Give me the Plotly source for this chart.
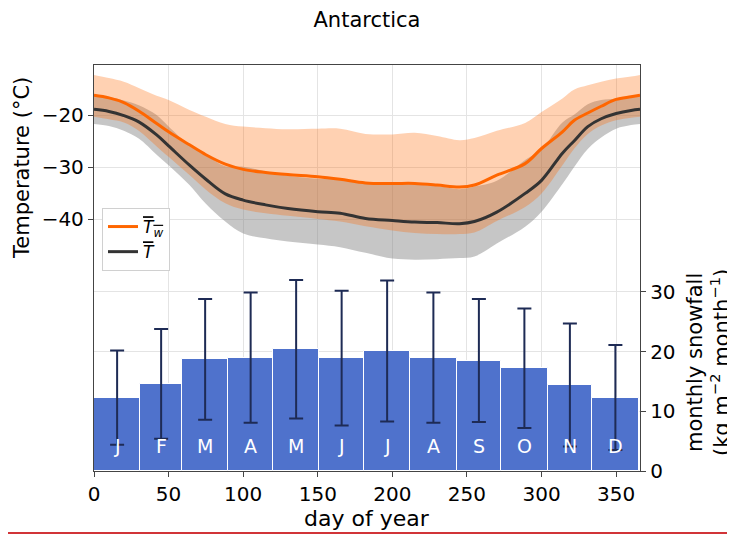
import plotly.graph_objects as go

# ---------------- data ----------------
days = [0, 10, 20, 30, 42, 50, 64, 75, 88, 100, 115, 130, 150, 165, 182,
        200, 215, 230, 245, 255, 270, 289, 300, 314, 322, 331, 340, 350, 360, 366]

tw_mean = [-16.2, -16.7, -17.6, -19.2, -21.6, -23.2, -25.7, -27.6, -29.4, -30.4,
           -31.0, -31.4, -31.8, -32.3, -33.0, -33.1, -33.1, -33.4, -33.8, -33.4,
           -31.5, -29.3, -26.4, -23.2, -21.0, -19.6, -18.3, -17.0, -16.5, -16.2]
tw_upper = [-12.3, -12.9, -13.6, -14.8, -16.3, -17.1, -19.0, -20.3, -21.7, -22.2,
            -22.5, -22.7, -22.6, -22.6, -23.6, -23.7, -23.4, -24.0, -24.8, -24.4,
            -23.0, -21.5, -19.4, -16.8, -15.1, -14.3, -13.6, -13.0, -12.6, -12.3]
tw_lower = [-20.3, -20.8, -21.4, -23.0, -26.0, -28.0, -31.5, -34.3, -36.9, -38.1,
            -38.8, -39.3, -39.9, -40.4, -41.3, -42.1, -42.6, -42.8, -42.8, -42.5,
            -40.3, -37.6, -35.0, -29.6, -26.4, -23.6, -22.0, -21.0, -20.5, -20.3]

t_mean = [-18.9, -19.3, -20.1, -21.3, -23.8, -25.9, -29.6, -32.3, -35.1, -36.3,
          -37.2, -37.9, -38.5, -38.8, -39.8, -40.2, -40.5, -40.6, -40.8, -40.4,
          -38.6, -35.0, -32.5, -27.3, -24.9, -22.2, -20.7, -19.7, -19.1, -18.9]
t_upper = [-16.1, -16.5, -17.2, -18.1, -20.0, -22.2, -25.8, -27.6, -29.8, -29.9,
           -30.8, -31.6, -32.2, -32.3, -33.2, -32.9, -33.3, -33.6, -34.2, -33.7,
           -32.6, -28.6, -26.5, -21.4, -19.9, -17.9, -17.1, -16.8, -16.3, -16.1]
t_lower = [-21.7, -22.1, -23.0, -24.5, -27.6, -29.6, -33.4, -37.0, -40.4, -42.7,
           -43.6, -44.2, -44.8, -45.3, -46.4, -47.5, -47.7, -47.6, -47.4, -47.1,
           -44.6, -41.4, -38.5, -33.2, -29.9, -26.5, -24.3, -22.6, -21.9, -21.7]

months = ["J", "F", "M", "A", "M", "J", "J", "A", "S", "O", "N", "D"]
month_days = [31, 28, 31, 30, 31, 30, 31, 31, 30, 31, 30, 31]
snow_mean = [12.3, 14.6, 18.7, 19.0, 20.4, 18.9, 20.1, 19.0, 18.5, 17.2, 14.4, 12.3]
snow_err = [7.9, 9.2, 10.1, 10.9, 11.6, 11.3, 11.8, 10.9, 10.3, 10.0, 10.3, 8.8]

x_ticks = [0, 50, 100, 150, 200, 250, 300, 350]
t_ticks = [-40, -30, -20]
s_ticks = [0, 10, 20, 30]

# month centres from month lengths
starts = []
acc = 0
for d in month_days:
    starts.append(acc)
    acc += d
centres = [s + d / 2 for s, d in zip(starts, month_days)]

FONT = "DejaVu Sans"
ORANGE = "#ff6600"
DARK = "#333333"

# page body has an 8px margin: figure is drawn 8px smaller and margins shifted
W, H = 727, 527
L, T = 86, 57          # plot area left/top inside figure
PW, PH = 546, 406      # plot area size


def px(xp):   # page x -> paper x
    return (xp - 8 - L) / PW


def py(yp):   # page y -> paper y
    return (T + PH - (yp - 8)) / PH


fig = go.Figure()

# snowfall bars (right axis)
fig.add_trace(go.Bar(
    x=centres, y=snow_mean, width=month_days, yaxis="y2",
    marker=dict(color="#4f72cc", line=dict(color="white", width=1)),
    error_y=dict(type="data", array=snow_err, color="#1e2b55",
                 thickness=2, width=7),
    showlegend=False, hoverinfo="skip",
))

# grey band for T
fig.add_trace(go.Scatter(x=days, y=t_lower, mode="lines", line=dict(width=0, shape="spline"),
                         showlegend=False, hoverinfo="skip"))
fig.add_trace(go.Scatter(x=days, y=t_upper, mode="lines", line=dict(width=0, shape="spline"),
                         fill="tonexty", fillcolor="rgba(128,128,128,0.45)",
                         showlegend=False, hoverinfo="skip"))
# orange band for Tw
fig.add_trace(go.Scatter(x=days, y=tw_lower, mode="lines", line=dict(width=0, shape="spline"),
                         showlegend=False, hoverinfo="skip"))
fig.add_trace(go.Scatter(x=days, y=tw_upper, mode="lines", line=dict(width=0, shape="spline"),
                         fill="tonexty", fillcolor="rgba(255,102,0,0.3)",
                         showlegend=False, hoverinfo="skip"))

fig.add_trace(go.Scatter(x=days, y=tw_mean, mode="lines",
                         line=dict(color=ORANGE, width=3, shape="spline"),
                         name='<span style="text-decoration:overline"><i>T<sub>w</sub></i></span>'))
fig.add_trace(go.Scatter(x=days, y=t_mean, mode="lines",
                         line=dict(color=DARK, width=3, shape="spline"),
                         name='<span style="text-decoration:overline"><i>T</i></span>'))

annotations = []
for c, m in zip(centres, months):
    annotations.append(dict(x=c, y=4.2, xref="x", yref="y2", text=m, showarrow=False,
                            font=dict(family=FONT, size=19, color="white"),
                            xanchor="center", yanchor="middle"))

annotations += [
    dict(text="Temperature (°C)", textangle=-90, xref="paper", yref="paper",
         x=px(22), y=py(168), showarrow=False,
         xanchor="center", yanchor="middle", font=dict(family=FONT, size=21, color="black")),
    dict(text="monthly snowfall<br>(kg m<sup>−2</sup> month<sup>−1</sup>)", textangle=-90,
         xref="paper", yref="paper", x=px(708), y=py(363),
         showarrow=False, xanchor="center", yanchor="middle",
         font=dict(family=FONT, size=21, color="black")),
    dict(text="day of year", xref="paper", yref="paper", x=0.5, y=py(518),
         showarrow=False, xanchor="center", yanchor="middle",
         font=dict(family=FONT, size=22, color="black")),
]

axis_common = dict(showline=True, linecolor="#444444", linewidth=1.3,
                   ticks="outside", ticklen=5, tickcolor="#444444",
                   tickfont=dict(family=FONT, size=20, color="black"),
                   gridcolor="#e4e4e4", gridwidth=1, zeroline=False, automargin=False)

fig.update_layout(
    width=W, height=H,
    margin=dict(l=L, r=W - L - PW, t=T, b=H - T - PH),
    plot_bgcolor="white", paper_bgcolor="white",
    title=dict(text="Antarctica", x=0.5, xref="paper", xanchor="center",
               y=1 - 12 / H, yref="container", yanchor="middle",
               font=dict(family=FONT, size=21, color="black")),
    xaxis=dict(range=[0, 366], tickvals=x_ticks, mirror=True, showgrid=True, **axis_common),
    yaxis=dict(range=[-88.2, -10.4], tickvals=t_ticks, mirror=False, showgrid=True,
               **axis_common),
    yaxis2=dict(range=[0, 68], tickvals=s_ticks, overlaying="y", side="right",
                showgrid=True, **axis_common),
    legend=dict(x=px(102), y=py(208), xanchor="left", yanchor="top",
                bgcolor="white", bordercolor="#d0d0d0", borderwidth=1,
                font=dict(family=FONT, size=17, color="black"),
                itemwidth=30, tracegroupgap=0, traceorder="normal"),
    annotations=annotations,
    bargap=0,
    shapes=[dict(type="line", xref="paper", yref="paper",
                 x0=px(7), x1=px(735), y0=py(533), y1=py(533),
                 line=dict(color="#d13438", width=2))],
)

fig.write_html("out.html")
